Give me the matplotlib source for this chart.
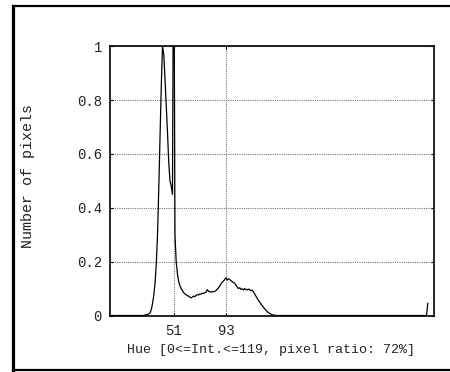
import matplotlib
matplotlib.use("Agg")
import matplotlib.pyplot as plt
from matplotlib.lines import Line2D

# ---- data ----
hue_start = 28
counts_mid = [0.002, 0.003, 0.004, 0.006, 0.010, 0.022, 0.045, 0.075, 0.12, 0.19,   # 28-37
              0.30, 0.47, 0.66, 0.85, 1.00, 0.97, 0.88, 0.78, 0.68, 0.57,           # 38-47
              0.50, 0.48, 0.45, 1.60, 0.30, 0.20, 0.155, 0.125, 0.11, 0.10,         # 48-57
              0.092, 0.085, 0.080, 0.077, 0.074, 0.071, 0.068, 0.065, 0.069, 0.072, # 58-67
              0.070, 0.075, 0.078, 0.076, 0.080, 0.079, 0.083, 0.082, 0.085, 0.087, # 68-77
              0.096, 0.090, 0.088, 0.087, 0.089, 0.088, 0.090, 0.093, 0.098, 0.103, # 78-87
              0.110, 0.118, 0.124, 0.128, 0.134, 0.140, 0.132, 0.136, 0.133, 0.129, # 88-97
              0.126, 0.122, 0.120, 0.112, 0.106, 0.100, 0.103, 0.097, 0.099, 0.095, # 98-107
              0.100, 0.097, 0.095, 0.098, 0.096, 0.092, 0.094, 0.088, 0.080, 0.072, # 108-117
              0.064, 0.056, 0.050, 0.043, 0.037, 0.031, 0.025, 0.020, 0.015, 0.011, # 118-127
              0.008, 0.005, 0.003, 0.002, 0.001]                                    # 128-132
last_value = 0.045   # hue 255
n_bins = 256
x_max = 260
x_ticks = [51, 93]
y_ticks = [0, 0.2, 0.4, 0.6, 0.8, 1]
y_tick_labels = ["0", "0.2", "0.4", "0.6", "0.8", "1"]
x_label = "Hue [0<=Int.<=119, pixel ratio: 72%]"
y_label = "Number of pixels"

counts = [0.0] * n_bins
for i, v in enumerate(counts_mid):
    counts[hue_start + i] = v
counts[n_bins - 1] = last_value
hues = list(range(n_bins))

# ---- figure ----
W, H = 450, 372
fig = plt.figure(figsize=(W / 100, H / 100), dpi=100)
font = ["Liberation Mono", "DejaVu Sans Mono"]
tc = "#222222"

ax = fig.add_axes([110.2 / W, 1 - 315.5 / H, (434 - 110.2) / W, (315.5 - 46.2) / H])
ax.plot(hues, counts, color="black", lw=0.9, clip_on=True)
ax.set_xlim(0, x_max)
ax.set_ylim(0, 1)
ax.set_xticks(x_ticks)
ax.set_xticklabels([str(t) for t in x_ticks], family=font, fontsize=10, color=tc)
ax.set_yticks(y_ticks)
ax.set_yticklabels(y_tick_labels, family=font, fontsize=10, color=tc)
ax.tick_params(axis="both", direction="in", length=2.2, width=0.8,
               top=True, right=True, pad=6.0)
ax.grid(True, color="#777777", linestyle=(0, (1, 1)), linewidth=0.8)
for s in ax.spines.values():
    s.set_linewidth(1.2)
    s.set_color("black")

fig.text(271 / W, 1 - 349.5 / H, x_label, ha="center", va="center",
         family=font, fontsize=9.65, color=tc)
fig.text(28 / W, 1 - 176.5 / H, y_label, ha="center", va="center",
         rotation=90, family=font, fontsize=10.8, color=tc)

# outer frame (right side lies beyond the canvas)
fig.add_artist(Line2D([12.5 / W, 1.0], [1 - 5.5 / H, 1 - 5.5 / H],
                      transform=fig.transFigure, color="black", lw=1.6))
fig.add_artist(Line2D([12.5 / W, 12.5 / W], [1 - 5.5 / H, 1 - 370.3 / H],
                      transform=fig.transFigure, color="black", lw=2.3))
fig.add_artist(Line2D([12.5 / W, 1.0], [1 - 370.3 / H, 1 - 370.3 / H],
                      transform=fig.transFigure, color="black", lw=1.6))

fig.savefig("out.png", dpi=100)
